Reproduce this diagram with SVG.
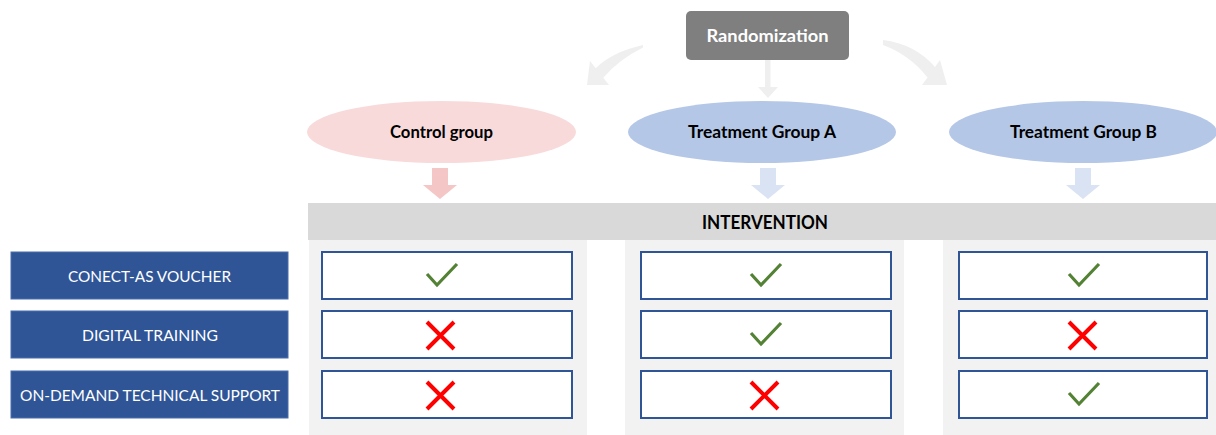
<svg xmlns="http://www.w3.org/2000/svg" width="1216" height="435" viewBox="0 0 1216 435">
<style>
.bg{fill:#ffffff}
.col{fill:#f2f2f2}
.bar{fill:#d9d9d9}
.lab{fill:#2f5597;stroke:#4a6fae;stroke-width:1}
.cell{fill:#ffffff;stroke:#2f5597;stroke-width:2}
.labt{font-family:Lato,"Open Sans","Liberation Sans",sans-serif;font-size:16px;fill:#ffffff;text-anchor:middle}
.bold{font-family:Lato,"Open Sans","Liberation Sans",sans-serif;font-weight:bold;font-size:16.5px;fill:#000000;text-anchor:middle}
.chk{fill:none;stroke:#548235;stroke-width:3.2}
.x{fill:none;stroke:#ff0000;stroke-width:4}
.garr{fill:#efefef}
</style>
<rect class="bg" x="0" y="0" width="1216" height="435"/>
<g id="columns">
  <rect class="col" x="309" y="240" width="278" height="195"/>
  <rect class="col" x="625" y="240" width="279" height="195"/>
  <rect class="col" x="943" y="240" width="273" height="195"/>
</g>
<g id="connectors">
  <path class="garr" d="M643,45 Q612,52 595.7,68.2 L590,61 L587,85 L609,85 L603.3,77.8 Q618,60 643,47.5 Z"/>
  <path class="garr" d="M883,40 Q915,44 935,67 L940,60 L947,85 L922,85 L927.5,77.5 Q910,55 883,45 Z"/>
  <path class="garr" d="M765,60 L770.5,60 L770.5,87 L778,87 L768,98 L758,87 L765,87 Z"/>
  <path fill="#f4c6c6" d="M432,168 L448,168 L448,185 L457,185 L440,199 L423,185 L432,185 Z"/>
  <path fill="#dae3f3" d="M760,168 L776,168 L776,185 L785,185 L768,199 L751,185 L760,185 Z"/>
  <path fill="#dae3f3" d="M1075,168 L1091,168 L1091,185 L1100,185 L1083,199 L1066,185 L1075,185 Z"/>
</g>
<g id="randomization">
  <rect x="686" y="11" width="163" height="49" rx="5" fill="#7f7f7f"/>
  <text class="bold" x="767.5" y="41.5" style="fill:#ffffff" textLength="122" lengthAdjust="spacingAndGlyphs">Randomization</text>
</g>
<g id="control-group">
  <ellipse cx="441.5" cy="132" rx="134.5" ry="31" fill="#f8dada"/>
  <text class="bold" x="441.5" y="138" textLength="103" lengthAdjust="spacingAndGlyphs">Control group</text>
</g>
<g id="treatment-a">
  <ellipse cx="762" cy="132" rx="134" ry="31" fill="#b4c7e7"/>
  <text class="bold" x="762" y="138" textLength="148" lengthAdjust="spacingAndGlyphs">Treatment Group A</text>
</g>
<g id="treatment-b">
  <ellipse cx="1083" cy="132" rx="134" ry="31" fill="#b4c7e7"/>
  <text class="bold" x="1083.5" y="138" textLength="147" lengthAdjust="spacingAndGlyphs">Treatment Group B</text>
</g>
<g id="intervention">
  <rect class="bar" x="308" y="203" width="908" height="37"/>
  <text class="bold" x="765" y="228.5" style="font-size:18px" textLength="126" lengthAdjust="spacingAndGlyphs">INTERVENTION</text>
</g>
<g id="label-voucher">
  <rect class="lab" x="11" y="252" width="277" height="47"/>
  <text class="labt" x="149.5" y="281.5" textLength="163" lengthAdjust="spacingAndGlyphs">CONECT-AS VOUCHER</text>
</g>
<g id="label-training">
  <rect class="lab" x="11" y="311" width="277" height="47"/>
  <text class="labt" x="150" y="340.5" textLength="136" lengthAdjust="spacingAndGlyphs">DIGITAL TRAINING</text>
</g>
<g id="label-support">
  <rect class="lab" x="11" y="371" width="277" height="47"/>
  <text class="labt" x="150" y="400.5" textLength="260" lengthAdjust="spacingAndGlyphs">ON-DEMAND TECHNICAL SUPPORT</text>
</g>
<g id="cells-control">
  <rect class="cell" x="322" y="252" width="250" height="47"/>
  <rect class="cell" x="322" y="311" width="250" height="47"/>
  <rect class="cell" x="322" y="371" width="250" height="47"/>
  <path class="chk" d="M427,274 L437,285 L457,264"/>
  <path class="x" d="M427,322 L454,349 M454,322 L427,349"/>
  <path class="x" d="M427,382 L454,409 M454,382 L427,409"/>
</g>
<g id="cells-treatment-a">
  <rect class="cell" x="641" y="252" width="250" height="47"/>
  <rect class="cell" x="641" y="311" width="250" height="47"/>
  <rect class="cell" x="641" y="371" width="250" height="47"/>
  <path class="chk" d="M751,274 L761,285 L781,264"/>
  <path class="chk" d="M751,333 L761,344 L781,323"/>
  <path class="x" d="M751,382 L778,409 M778,382 L751,409"/>
</g>
<g id="cells-treatment-b">
  <rect class="cell" x="959" y="252" width="248" height="47"/>
  <rect class="cell" x="959" y="311" width="248" height="47"/>
  <rect class="cell" x="959" y="371" width="248" height="47"/>
  <path class="chk" d="M1069,274 L1079,285 L1099,264"/>
  <path class="x" d="M1069,322 L1096,349 M1096,322 L1069,349"/>
  <path class="chk" d="M1069,393 L1079,404 L1099,383"/>
</g>
</svg>
